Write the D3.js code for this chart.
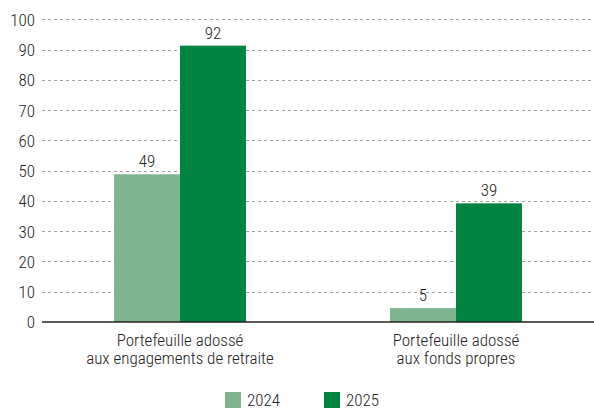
<!DOCTYPE html>
<html><head><meta charset="utf-8">
<script src="https://cdn.jsdelivr.net/npm/d3@7"></script>
<style>
body{margin:0;background:#fff;}
text{font-family:"Roboto Condensed","Liberation Sans Narrow",sans-serif;font-weight:300;fill:#222;}
</style></head>
<body><svg id="c" width="594" height="412"></svg>
<script>
const categories = [["Portefeuille adossé","aux engagements de retraite"],["Portefeuille adossé","aux fonds propres"]];
const seriesNames = ["2024","2025"];
const values2024 = [48.8, 4.6];
const values2025 = [91.3, 39.2];
const labels2024 = ["49","5"];
const labels2025 = ["92","39"];
const yTicks = [0,10,20,30,40,50,60,70,80,90,100];
const colors = ["#7db48d","#00843f"];

const svg = d3.select("#c");
const mLeft = 42, mRight = 594, mTop = 19.3, mBottom = 322;
const y = d3.scaleLinear().domain([0,100]).range([mBottom, mTop]);
const x0 = d3.scaleBand().domain(d3.range(categories.length)).range([mLeft, mRight]).paddingInner(0.522).paddingOuter(0.261);
const x1 = d3.scaleBand().domain(seriesNames).range([0, x0.bandwidth()]);

// grid
svg.append("g").selectAll("line").data(yTicks.filter(d=>d>0)).join("line")
  .attr("x1", mLeft).attr("x2", mRight)
  .attr("y1", d=>Math.round(y(d))+0.5).attr("y2", d=>Math.round(y(d))+0.5)
  .attr("stroke", "#a0a0a0").attr("stroke-width", 1).attr("stroke-dasharray", "3,3");

// y labels
const yAxis = d3.axisLeft(y).tickValues(yTicks).tickSize(0).tickPadding(0);
const ga = svg.append("g").attr("transform", `translate(${mLeft-7},0)`).call(yAxis);
ga.select(".domain").remove();
ga.attr("font-family",null).attr("font-size",null);
ga.selectAll("text").style("font-size","17px").attr("fill","#222").attr("dy","0.35em");

// bars
const data = categories.map((c,i)=>[
  {s:"2024", v:values2024[i], l:labels2024[i]},
  {s:"2025", v:values2025[i], l:labels2025[i]}]);
const groups = svg.append("g").selectAll("g").data(data).join("g")
  .attr("transform", (d,i)=>`translate(${x0(i)},0)`);
groups.selectAll("rect").data(d=>d).join("rect")
  .attr("x", d=>x1(d.s)).attr("width", x1.bandwidth())
  .attr("y", d=>y(d.v)).attr("height", d=>y(0)-y(d.v))
  .attr("fill", (d,i)=>colors[i]);
groups.selectAll("text.v").data(d=>d).join("text").attr("class","v")
  .attr("x", d=>x1(d.s)+x1.bandwidth()/2).attr("y", d=>y(d.v)-7)
  .attr("text-anchor","middle").style("font-size","17px").text(d=>d.l);

// baseline
svg.append("line").attr("x1", mLeft).attr("x2", mRight).attr("y1", mBottom).attr("y2", mBottom)
  .attr("stroke","#222").attr("stroke-width",1.5);

// category labels
const cl = svg.append("g").selectAll("text").data(categories).join("text")
  .attr("text-anchor","middle").attr("x",(d,i)=>x0(i)+x0.bandwidth()/2).attr("y", 346)
  .style("font-size","17px");
cl.selectAll("tspan").data(d=>d).join("tspan")
  .attr("x", function(){return this.parentNode.getAttribute("x");})
  .attr("dy",(d,i)=>i?"17.5":"0").text(d=>d);

// legend
const legX = [225, 324];
const lg = svg.append("g").selectAll("g").data(seriesNames).join("g")
  .attr("transform",(d,i)=>`translate(${legX[i]},392)`);
lg.append("rect").attr("width",16).attr("height",16).attr("fill",(d,i)=>colors[i]);
lg.append("text").attr("x",22).attr("y",8).attr("dy","0.35em").style("font-size","17px").text(d=>d);
</script></body></html>
